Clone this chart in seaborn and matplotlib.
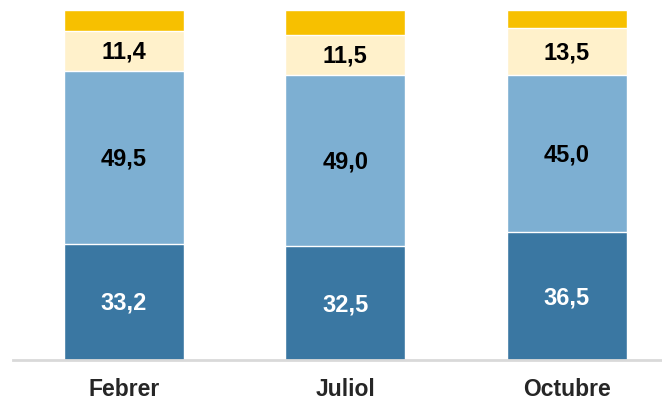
import pandas as pd
import numpy as np
import matplotlib
matplotlib.use("Agg")
import matplotlib.pyplot as plt
import seaborn as sns

# dades
mesos = ["Febrer", "Juliol", "Octubre"]
fosc = [33.2, 32.5, 36.5]
clar = [49.5, 49.0, 45.0]
pal = [11.4, 11.5, 13.5]
groc = [5.9, 7.0, 5.0]

colors = ["#3A77A2", "#7DAFD2", "#FFF1CB", "#F7C000"]
text_colors = ["white", "black", "black", None]

sns.set_style("white")
plt.rcParams["font.family"] = ["Liberation Sans", "DejaVu Sans"]

df = pd.DataFrame({"mes": mesos, "fosc": fosc, "clar": clar, "pal": pal, "groc": groc})
series = ["fosc", "clar", "pal", "groc"]
cum = df[series].cumsum(axis=1)

fig = plt.figure(figsize=(6.62, 4.03), dpi=100)
ax = fig.add_axes([13 / 662, 43 / 403, 1 - 13 / 662, 350 / 403])

# barres apilades: de dalt a baix, cada capa tapa l'anterior
for s, c in reversed(list(zip(series, colors))):
    sns.barplot(x=df["mes"], y=cum[s], color=c, width=0.54, saturation=1, ax=ax)

# etiquetes dins dels segments
for i in range(len(mesos)):
    base = 0
    for s, tc in zip(series, text_colors):
        v = df[s][i]
        if tc is not None:
            ax.text(i, base + v / 2 - 0.4, f"{v:.1f}".replace(".", ","), ha="center", va="center",
                    color=tc, fontsize=17, fontweight="bold")
        base += v

ax.set_xlim(-0.5, 2.43)
ax.set_ylim(0, 100)
ax.set_xlabel("")
ax.set_ylabel("")
ax.set_yticks([])
ax.tick_params(axis="x", length=0, pad=13, labelsize=16.5)
for lab in ax.get_xticklabels():
    lab.set_fontweight("bold")
sns.despine(ax=ax, left=True, right=True, top=True)
ax.spines["bottom"].set_color("#D9D9D9")
ax.spines["bottom"].set_linewidth(2)

fig.savefig("out.png", dpi=100)
